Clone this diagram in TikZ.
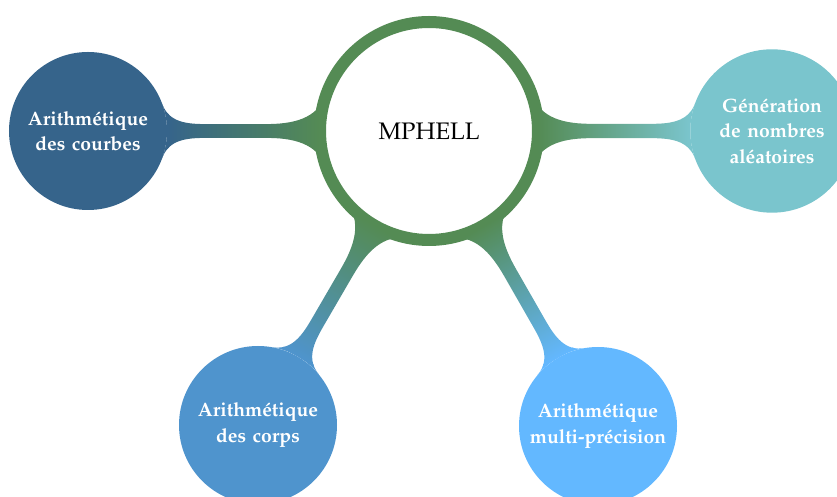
\documentclass[tikz,border=0pt]{standalone}
\usepackage[T1]{fontenc}
\usepackage{mathpazo}
\usepackage[x11names]{xcolor}
\usetikzlibrary{mindmap, positioning}

\begin{document}
\begin{tikzpicture}[mindmap,
     topic/.style={concept, circle, draw=none, minimum size=3.16cm, inner sep=0pt,
       text width=3cm, align=center, text=white, font=\fontsize{11}{14.5}\selectfont\bfseries},
     rootnode/.style={concept, circle, draw=PaleGreen4, fill=white, line width=0.24cm,
       minimum size=4.36cm, inner sep=0pt, text=black, font=\fontsize{13.6}{16}\selectfont}]
     \useasboundingbox (0,0) rectangle (16.74,-9.94); %page size
     \node[concept color=PaleGreen4, rootnode] (mphell) at (8.58,-2.62) {MPHELL};
     \node[concept color=SteelBlue4, topic] (courbes) at (1.76,-2.62)
     {Arithm\'etique\\des courbes};
     \node[concept color=CadetBlue3, topic] (alea) at (15.44,-2.62)
     {G\'en\'eration\\de nombres\\al\'eatoires};
     \node[concept color=SteelBlue3, topic] (corps) at (5.16,-8.50)
     {Arithm\'etique\\des corps};
     \node[concept color=SteelBlue1, topic] (multi) at (11.96,-8.52)
     {Arithm\'etique\\multi-pr\'ecision};
     %connection bars
     \path[line width=0.28cm] (mphell) to[circle connection bar switch color=from (PaleGreen4) to (SteelBlue4)] (courbes);
     \path[line width=0.28cm] (mphell) to[circle connection bar switch color=from (PaleGreen4) to (CadetBlue3)] (alea);
     \path[line width=0.28cm] (mphell) to[circle connection bar switch color=from (PaleGreen4) to (SteelBlue3)] (corps);
     \path[line width=0.28cm] (mphell) to[circle connection bar switch color=from (PaleGreen4) to (SteelBlue1)] (multi);
   \end{tikzpicture}
\end{document}
